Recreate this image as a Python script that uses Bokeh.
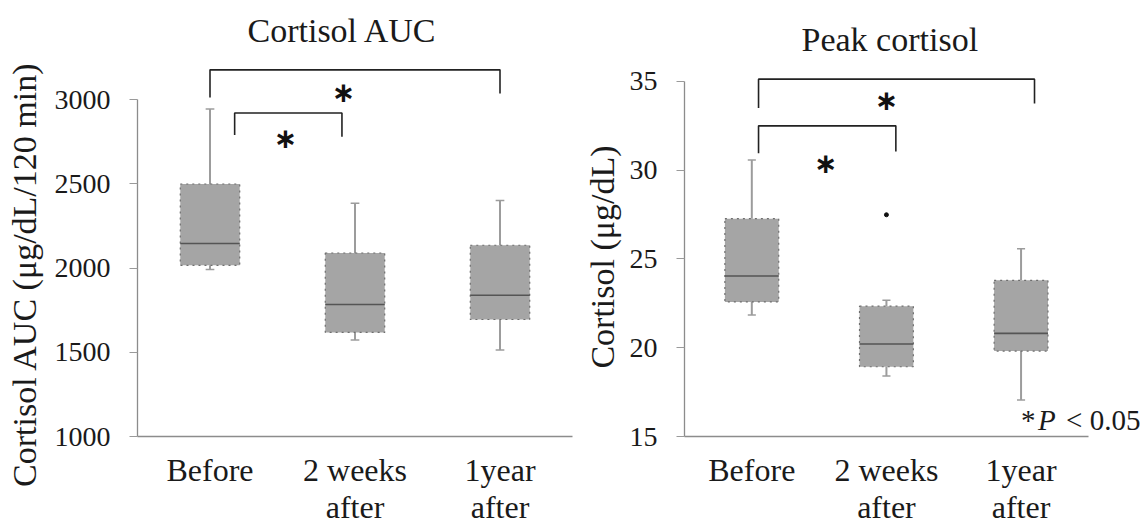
from bokeh.plotting import figure
from bokeh.layouts import row, column
from bokeh.models import FixedTicker, Label, Range1d, ColumnDataSource, Spacer
from bokeh.embed import file_html
from bokeh.resources import INLINE
from bokeh.core.properties import value

# ---------------- data ----------------
groups = ["Before", "2 weeks\nafter", "1year\nafter"]
group_pos = [0, 1, 2]

# Cortisol AUC (box-plot statistics)
auc_low = [1992, 1573, 1514]
auc_q1 = [2017, 1618, 1695]
auc_median = [2146, 1784, 1839]
auc_q3 = [2500, 2090, 2136]
auc_high = [2945, 2386, 2402]
auc_ticks = [1000, 1500, 2000, 2500, 3000]

# Peak cortisol (box-plot statistics)
peak_low = [21.84, 18.41, 17.06]
peak_q1 = [22.58, 18.93, 19.81]
peak_median = [24.04, 20.21, 20.81]
peak_q3 = [27.27, 22.34, 23.80]
peak_high = [30.58, 22.68, 25.58]
peak_outlier_group = [1]
peak_outlier_value = [27.49]
peak_ticks = [15, 20, 25, 30, 35]

# significance brackets: (x_left, x_right, y_top, y_left_end, y_right_end)
auc_brackets = [(0.0, 2.0, 3178, 3014, 3038), (0.17, 0.91, 2922, 2791, 2781)]
auc_stars_x = [0.92, 0.52]
auc_stars_y = [3044, 2768]
peak_brackets = [(0.05, 2.1, 35.13, 33.5, 33.76), (0.05, 1.07, 32.5, 30.96, 31.05)]
peak_stars_x = [1.0, 0.55]
peak_stars_y = [33.9, 30.36]

SERIF = "Liberation Serif"
TXT = "#1a1a1a"
NBSP = "\u00a0"


def make_panel(title, ylabel, ticks, y_end, x_end, low, q1, med, q3, high,
               brackets, sx, sy, width, height, bl, br, bt, bb,
               box_w, title_offset, title_standoff, ylabel_standoff):
    p = figure(width=width, height=height, output_backend="svg",
               toolbar_location=None, title=title,
               x_range=Range1d(-0.5, x_end), y_range=Range1d(ticks[0], y_end),
               min_border_left=bl, min_border_right=br,
               min_border_top=bt, min_border_bottom=bb)
    p.outline_line_color = None
    p.grid.visible = False
    p.background_fill_color = "white"
    p.border_fill_color = "white"

    p.title.text_font = SERIF
    p.title.text_font_size = "34px"
    p.title.text_font_style = "normal"
    p.title.text_color = TXT
    p.title.align = "left"
    p.title.offset = title_offset
    p.title.standoff = title_standoff

    # x axis
    xa = p.xaxis[0]
    xa.ticker = FixedTicker(ticks=group_pos)
    xa.bounds = (-0.5, 2.5)
    xa.major_label_overrides = {g: lab for g, lab in zip(group_pos, groups)}
    xa.major_label_text_font = SERIF
    xa.major_label_text_font_size = "32px"
    xa.major_label_text_line_height = 1.05
    xa.major_label_text_color = TXT
    xa.major_label_standoff = 9
    xa.major_tick_line_color = None
    xa.minor_tick_line_color = None
    xa.axis_line_color = "#8c8c8c"
    xa.axis_line_width = 1.3

    # y axis
    ya = p.yaxis[0]
    ya.ticker = FixedTicker(ticks=ticks)
    ya.bounds = (ticks[0], ticks[-1])
    ya.major_label_text_font = SERIF
    ya.major_label_text_font_size = "28px"
    ya.major_label_text_color = TXT
    ya.major_label_standoff = 19
    ya.major_tick_out = 8
    ya.major_tick_in = 0
    ya.major_tick_line_color = "#9a9a9a"
    ya.minor_tick_line_color = None
    ya.axis_line_color = "#8c8c8c"
    ya.axis_line_width = 1.3
    ya.axis_label = ylabel
    ya.axis_label_text_font = SERIF
    ya.axis_label_text_font_size = "34px"
    ya.axis_label_text_font_style = "normal"
    ya.axis_label_text_color = TXT
    ya.axis_label_standoff = ylabel_standoff

    src = ColumnDataSource(dict(x=group_pos, low=low, q1=q1, med=med, q3=q3, high=high,
                                xl=[g - box_w / 2 for g in group_pos],
                                xr=[g + box_w / 2 for g in group_pos],
                                cl=[g - 0.03 for g in group_pos],
                                cr=[g + 0.03 for g in group_pos]))
    # whiskers
    p.segment(x0="x", y0="q3", x1="x", y1="high", source=src, line_color="#9c9c9c", line_width=2)
    p.segment(x0="x", y0="q1", x1="x", y1="low", source=src, line_color="#9c9c9c", line_width=2)
    p.segment(x0="cl", y0="high", x1="cr", y1="high", source=src, line_color="#9c9c9c", line_width=1.5)
    p.segment(x0="cl", y0="low", x1="cr", y1="low", source=src, line_color="#9c9c9c", line_width=1.5)
    # boxes
    p.vbar(x="x", width=box_w, top="q3", bottom="q1", source=src,
           fill_color="#a5a5a5", line_color="#6e6e6e", line_width=1.2, line_dash="dotted")
    # medians
    p.segment(x0="xl", y0="med", x1="xr", y1="med", source=src, line_color="#555555", line_width=1.6)

    # brackets
    xs, ys = [], []
    for (x0, x1, yt, yl, yr) in brackets:
        xs.append([x0, x0, x1, x1])
        ys.append([yl, yt, yt, yr])
    p.multi_line(xs=xs, ys=ys, line_color="#222222", line_width=1.6)
    p.text(x=sx, y=sy, text=["\u2217"] * len(sx), text_font=value("DejaVu Sans"),
           text_font_size="28px", text_font_style="bold", text_color="#111111",
           text_align="center", text_baseline="middle")
    return p


# left panel: frame x 137..572, y 52..437
p1 = make_panel("Cortisol AUC", "Cortisol AUC (\u03bcg/dL/120 min)" + NBSP * 7, auc_ticks, 3281, 2.5,
                auc_low, auc_q1, auc_median, auc_q3, auc_high,
                auc_brackets, auc_stars_x, auc_stars_y,
                width=580, height=528, bl=137, br=8, bt=52, bb=91, box_w=0.41,
                title_offset=110, title_standoff=7, ylabel_standoff=9)

# right panel (shifted down by a spacer): frame x 681..1144, y 60..437
p2 = make_panel("Peak cortisol", "Cortisol (\u03bcg/dL)" + NBSP * 2, peak_ticks, 36.18, 2.917,
                peak_low, peak_q1, peak_median, peak_q3, peak_high,
                peak_brackets, peak_stars_x, peak_stars_y,
                width=564, height=519, bl=101, br=0, bt=51, bb=91, box_w=0.40,
                title_offset=117, title_standoff=6, ylabel_standoff=6)
p2.scatter(x=peak_outlier_group, y=peak_outlier_value, size=4, color="#111111")

# p-value note
p2.add_layout(Label(x=2.0, y=15.02, x_offset=0, text="*", text_font=SERIF,
                    text_font_size="29px", text_color=TXT, text_align="left",
                    text_baseline="bottom"))
p2.add_layout(Label(x=2.0, y=15.02, x_offset=17, text="P", text_font=SERIF,
                    text_font_size="29px", text_font_style="italic", text_color=TXT,
                    text_align="left", text_baseline="bottom"))
p2.add_layout(Label(x=2.0, y=15.02, x_offset=45, text="< 0.05", text_font=SERIF,
                    text_font_size="29px", text_color=TXT, text_align="left",
                    text_baseline="bottom"))

layout = row(p1, column(Spacer(height=9), p2, spacing=0), spacing=0)
open("out.html", "w").write(file_html(layout, INLINE))
